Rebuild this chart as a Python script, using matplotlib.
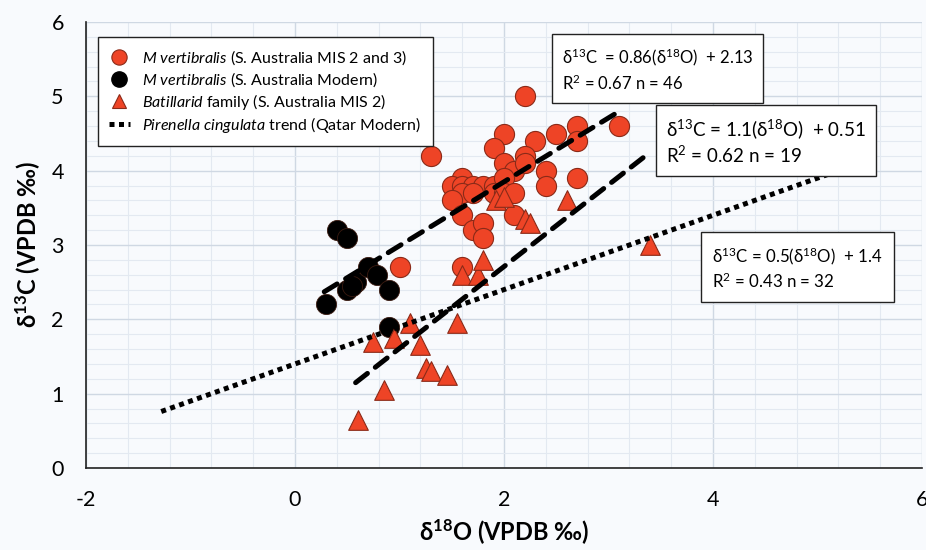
import matplotlib
matplotlib.use("Agg")
import matplotlib.pyplot as plt
from matplotlib.lines import Line2D
from matplotlib.ticker import MultipleLocator
import numpy as np

plt.rcParams["font.family"] = ["Lato", "DejaVu Sans"]
plt.rcParams["mathtext.fontset"] = "custom"
plt.rcParams["mathtext.rm"] = "Lato"
plt.rcParams["mathtext.it"] = "Lato:italic"
plt.rcParams["mathtext.bf"] = "Lato:bold"
plt.rcParams["axes.unicode_minus"] = False

# M. vertibralis, S. Australia MIS 2 and 3
mis_d18o = [2.2, 2.0, 1.9, 1.3, 2.5, 2.7, 2.7, 3.1, 2.3, 2.2, 2.0, 2.1, 2.2, 2.4, 2.4, 2.7,
            1.6, 1.5, 1.6, 1.7, 1.6, 1.5, 1.8, 1.9, 2.0, 1.9, 2.0, 2.1, 1.7,
            1.6, 1.7, 1.8, 1.8, 2.1, 1.6, 1.0]
mis_d13c = [5.0, 4.5, 4.3, 4.2, 4.5, 4.6, 4.4, 4.6, 4.4, 4.2, 4.1, 4.0, 4.1, 4.0, 3.8, 3.9,
            3.9, 3.8, 3.8, 3.8, 3.7, 3.6, 3.8, 3.8, 3.9, 3.7, 3.7, 3.7, 3.7,
            3.4, 3.2, 3.3, 3.1, 3.4, 2.7, 2.7]

# M. vertibralis, S. Australia modern
mod_d18o = [0.4, 0.5, 0.3, 0.5, 0.58, 0.55, 0.7, 0.78, 0.9, 0.9]
mod_d13c = [3.2, 3.1, 2.2, 2.4, 2.5, 2.45, 2.7, 2.6, 2.4, 1.9]

# Batillarid family, S. Australia MIS 2
bat_d18o = [0.6, 0.85, 0.75, 0.95, 1.1, 1.2, 1.25, 1.3, 1.45, 1.55, 1.6, 1.75, 1.8,
            1.92, 2.0, 2.2, 2.25, 2.6, 3.4]
bat_d13c = [0.65, 1.05, 1.7, 1.75, 1.95, 1.65, 1.35, 1.3, 1.25, 1.95, 2.6, 2.6, 2.8,
            3.6, 3.65, 3.35, 3.3, 3.6, 3.0]

# Regression trends: slope, intercept, x extent
fit_slopes = [0.86, 1.1, 0.5]
fit_intercepts = [2.13, 0.51, 1.4]
fit_x_start = [0.28, 0.58, -1.28]
fit_x_end = [3.1, 3.39, 5.2]
fit_r2 = [0.67, 0.62, 0.43]
fit_n = [46, 19, 32]

x_ticks = [-2, 0, 2, 4, 6]
y_ticks = [0, 1, 2, 3, 4, 5, 6]

red = "#ee4426"
red_edge = "#8a2a18"
bg = "#f8fafd"

fig = plt.figure(figsize=(9.26, 5.5), dpi=100, facecolor=bg)
ax = fig.add_axes([86 / 926, (550 - 468) / 550, 836 / 926, 446 / 550])
ax.set_facecolor(bg)

ax.set_xlim(-2, 6)
ax.set_ylim(0, 6)
ax.set_xticks(x_ticks)
ax.set_yticks(y_ticks)
ax.xaxis.set_minor_locator(MultipleLocator(0.4))
ax.yaxis.set_minor_locator(MultipleLocator(0.2))
ax.grid(which="major", color="#cfd8e3", lw=1.0, zorder=0)
ax.grid(which="minor", color="#e3e9f1", lw=0.8, zorder=0)
ax.set_axisbelow(True)
ax.tick_params(which="both", length=0)
ax.tick_params(axis="x", labelsize=15.5, pad=16)
ax.tick_params(axis="y", labelsize=15.5, pad=16)
for side in ["top", "right"]:
    ax.spines[side].set_visible(False)
for side in ["left", "bottom"]:
    ax.spines[side].set_color("#222222")
    ax.spines[side].set_linewidth(1.2)

ax.set_xlabel(r"δ$^{\mathbf{18}}$O (VPDB ‰)", fontsize=17, fontweight="bold", labelpad=5)
ax.set_ylabel(r"δ$^{\mathbf{13}}$C (VPDB ‰)", fontsize=17, fontweight="bold", labelpad=7)

ax.scatter(mis_d18o, mis_d13c, s=210, marker="o", c=red, edgecolors=red_edge,
           linewidths=0.8, zorder=3)
ax.scatter(mod_d18o, mod_d13c, s=210, marker="o", c="black", edgecolors="#3a1a10",
           linewidths=0.6, zorder=3)
ax.scatter(bat_d18o, bat_d13c, s=200, marker="^", c=red, edgecolors=red_edge,
           linewidths=0.8, zorder=3)

styles = [dict(ls=(0, (3.0, 2.0)), dash_capstyle="round"),
          dict(ls=(0, (3.0, 2.0)), dash_capstyle="round"),
          dict(ls=(0, (1.0, 0.9)), dash_capstyle="butt")]
for k in range(3):
    xs = np.array([fit_x_start[k], fit_x_end[k]])
    ys = fit_slopes[k] * xs + fit_intercepts[k]
    ax.plot(xs, ys, color="black", lw=3.6, zorder=4, **styles[k])

handles = [
    Line2D([], [], ls="none", marker="o", ms=11, mfc=red, mec=red_edge, mew=0.8),
    Line2D([], [], ls="none", marker="o", ms=11, mfc="black", mec="black"),
    Line2D([], [], ls="none", marker="^", ms=10, mfc=red, mec=red_edge, mew=0.8),
    Line2D([], [], color="black", lw=3.6, ls=(0, (1.0, 0.9))),
]
labels = [
    r"$\mathit{M\ vertibralis}$ (S. Australia MIS 2 and 3)",
    r"$\mathit{M\ vertibralis}$ (S. Australia Modern)",
    r"$\mathit{Batillarid}$ family (S. Australia MIS 2)",
    r"$\mathit{Pirenella\ cingulata}$ trend (Qatar Modern)",
]
leg = ax.legend(handles, labels, loc="upper left", bbox_to_anchor=(0.014, 0.966),
                borderaxespad=0, fontsize=11.5, frameon=True, fancybox=False,
                edgecolor="#222222", facecolor="white", framealpha=1,
                handlelength=1.3, handletextpad=0.8, labelspacing=0.2,
                borderpad=0.7)
leg.get_frame().set_linewidth(1.0)
leg.set_zorder(6)

eq_fmt = [
    "δ$^{{13}}$C  = {s}(δ$^{{18}}$O)  + {b}",
    "δ$^{{13}}$C = {s}(δ$^{{18}}$O)  + {b}",
    "δ$^{{13}}$C = {s}(δ$^{{18}}$O)  + {b}",
]
eq_pos = [(562, 46), (666, 117), (712, 245)]
eq_size = [12.0, 13.5, 12.2]
eq_pad = [0.6, 0.55, 0.65]
eq_spacing = [1.35, 1.2, 1.3]
for k in range(3):
    txt = (eq_fmt[k].format(s=fit_slopes[k], b=fit_intercepts[k]) + "\n"
           + f"R$^2$ = {fit_r2[k]} n = {fit_n[k]}")
    px, py = eq_pos[k]
    fig.text(px / 926, 1 - py / 550, txt, fontsize=eq_size[k], ha="left", va="top",
             linespacing=eq_spacing[k], zorder=7,
             bbox=dict(boxstyle=f"square,pad={eq_pad[k]}", fc="white", ec="#222222", lw=1.0))

fig.savefig("out.png", dpi=100, facecolor=bg)
